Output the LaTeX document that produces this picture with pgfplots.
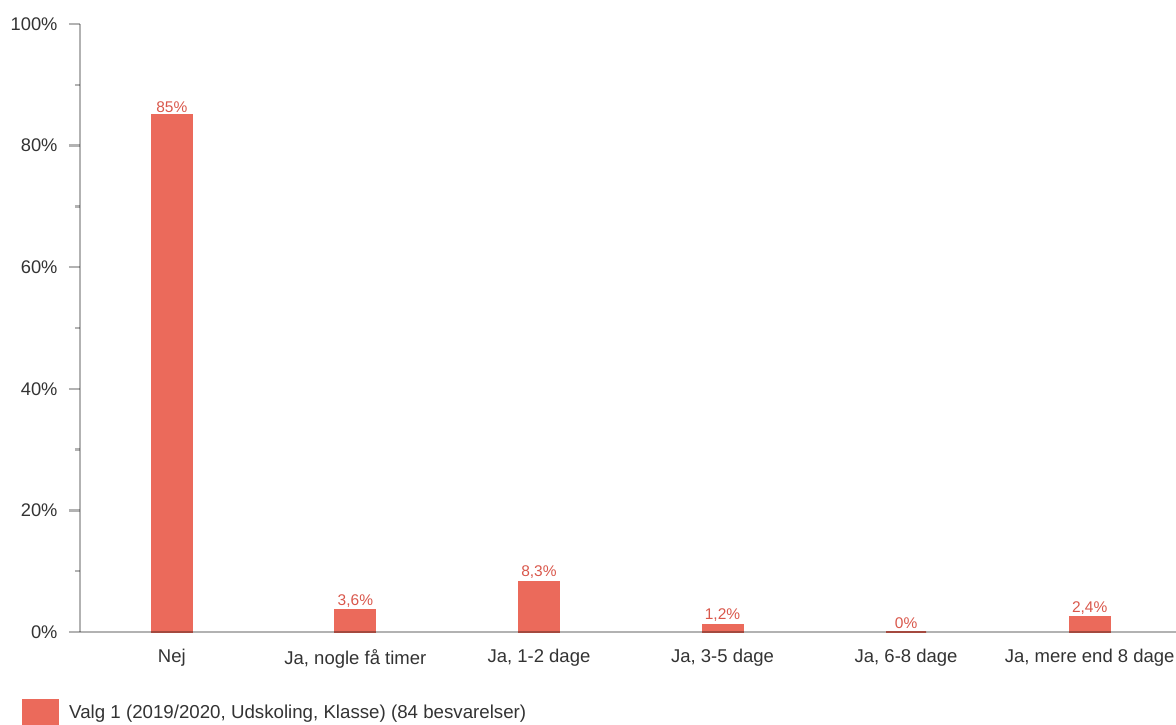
\documentclass[border=0pt]{standalone}
\usepackage{pgfplots}
\pgfplotsset{compat=1.18}
\usepackage{fontspec}
\setmainfont{Liberation Sans}
\definecolor{barcol}{HTML}{EB6A5B}
\definecolor{labcol}{HTML}{D9574B}
\definecolor{txt}{HTML}{333333}
\begin{document}
\begin{tikzpicture}
\path[use as bounding box] (0,0) rectangle (1176pt,724pt);
\begin{axis}[
  at={(80pt,92pt)}, anchor=south west,
  scale only axis, width=1096pt, height=608pt,
  xmin=-0.5, xmax=5.47, ymin=0, ymax=100,
  enlargelimits=false,
  axis lines=left,
  axis line style={-, black, opacity=0.3, line width=2.6pt},
  axis on top,
  xtick=data,
  xticklabels={Nej, {Ja, nogle få timer}, {Ja, 1-2 dage}, {Ja, 3-5 dage}, {Ja, 6-8 dage}, {Ja, mere end 8 dage}},
  x tick style={draw=none},
  xticklabel style={font=\fontsize{18.5}{22}\selectfont, text=txt, yshift=-3pt},
  ytick={0,20,40,60,80,100},
  minor y tick num=1,
  tick align=outside,
  major tick length=11pt, minor tick length=5pt,
  y tick style={black, opacity=0.3, line width=2.4pt},
  yticklabel={\pgfmathprintnumber{\tick}\%},
  yticklabel style={font=\fontsize{18.3}{22}\selectfont, text=txt, xshift=-8pt},
  /pgf/number format/assume math mode=true,
  legend style={at={(-0.0529,-0.133)}, anchor=west, draw=none, fill=none,
    font=\fontsize{18.7}{22}\selectfont, text=txt, inner sep=0pt, column sep=8pt,
    legend cell align=left},
  legend image code/.code={\fill[barcol] (0pt,-13pt) rectangle (35pt,12pt);},
  nodes near coords={\pgfmathprintnumber[use comma]{\pgfplotspointmeta}\%},
  nodes near coords style={font=\fontsize{15.5}{18}\selectfont, text=labcol, anchor=south, inner sep=2pt},
]
\addplot[ybar, bar width=40pt, fill=barcol, draw=barcol, line width=2pt]
  coordinates {(0,85) (1,3.6) (2,8.3) (3,1.2) (4,0) (5,2.4)};
\addlegendentry{Valg 1 (2019/2020, Udskoling, Klasse) (84 besvarelser)}
\end{axis}
\end{tikzpicture}
\end{document}
